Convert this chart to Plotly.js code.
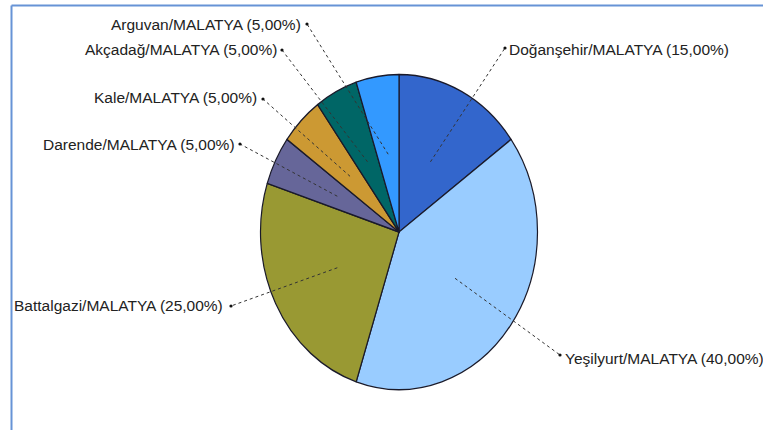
<!DOCTYPE html>
<html>
<head>
<meta charset="utf-8">
<script src="https://cdn.plot.ly/plotly-3.0.1.min.js"></script>
<style>
  html, body { margin: 0; padding: 0; background: #ffffff; }
  #chart { width: 763px; height: 430px; }
</style>
</head>
<body>
<div id="chart"></div>
<script>
// ---- data ----
var districts = ["Doğanşehir", "Yeşilyurt", "Battalgazi", "Darende", "Kale", "Akçadağ", "Arguvan"];
var province = "MALATYA";
var shares = [15, 40, 25, 5, 5, 5, 5];
var sliceColors = ["#3366cc", "#99ccff", "#999933", "#666699", "#cc9933", "#006666", "#3399ff"];

// ---- layout constants (pixels) ----
var W = 763, H = 430;
var CX = 399, CY = 232;      // pie centre
var RX = 138.5, RY = 157.5;  // pie radii (drawn as ellipse)
// outer end (dot) of each leader line and which side the label sits on
var dotPos = [[505, 48], [560, 355], [231, 306], [240, 144], [263, 99], [282, 50], [307, 24]];
var labelSide = ["left", "left", "right", "right", "right", "right", "right"];
var labelGap = [2, 3, 6, 3, 4, 3, 4];
var labelDy = [2, 3, -1, 0, -2, -1, 1];

function px(x) { return x / W; }
function py(y) { return 1 - y / H; }

var labels = districts.map(function (d) { return d + "/" + province; });
var total = shares.reduce(function (a, b) { return a + b; }, 0);

var shapes = [];
var annotations = [];

// border frame (top and left)
shapes.push({type: "line", xref: "paper", yref: "paper", x0: px(11.5), x1: 1, y0: py(5.5), y1: py(5.5),
  line: {color: "#6793d6", width: 2}});
shapes.push({type: "line", xref: "paper", yref: "paper", x0: px(11.5), x1: px(11.5), y0: py(5.5), y1: 0,
  line: {color: "#6793d6", width: 2}});

var cum = 0;
for (var i = 0; i < shares.length; i++) {
  var mid = (cum + shares[i] / 2) / total * 2 * Math.PI; // clockwise from 12 o'clock
  cum += shares[i];
  var ix = CX + 0.5 * RX * Math.sin(mid);
  var iy = CY - 0.5 * RY * Math.cos(mid);
  var dx = dotPos[i][0], dy = dotPos[i][1];
  shapes.push({type: "line", xref: "paper", yref: "paper",
    x0: px(ix), y0: py(iy), x1: px(dx), y1: py(dy),
    line: {color: "#333333", width: 1, dash: "dot"}});
  shapes.push({type: "circle", xref: "paper", yref: "paper",
    x0: px(dx - 1.6), x1: px(dx + 1.6), y0: py(dy - 1.6), y1: py(dy + 1.6),
    fillcolor: "#111", line: {color: "#111", width: 0}});
  var txt = labels[i] + " (" + shares[i].toFixed(2).replace(".", ",") + "%)";
  var isLeft = labelSide[i] === "left";
  annotations.push({
    xref: "paper", yref: "paper",
    x: px(isLeft ? dx + labelGap[i] : dx - labelGap[i]), y: py(dy + labelDy[i]),
    xanchor: isLeft ? "left" : "right", yanchor: "middle",
    text: txt, showarrow: false,
    font: {family: "Liberation Sans, Arial, sans-serif", size: 15.5, color: "#222222"}
  });
}

var trace = {
  type: "pie",
  labels: labels,
  values: shares,
  sort: false,
  direction: "clockwise",
  rotation: 0,
  textinfo: "none",
  hoverinfo: "none",
  marker: {colors: sliceColors, line: {color: "#1a1a2a", width: 1.2}},
  domain: {x: [px(CX - RX), px(CX + RX)], y: [py(CY + RX), py(CY - RX)]},
  showlegend: false
};

var layout = {
  width: W, height: H,
  margin: {l: 0, r: 0, t: 0, b: 0},
  paper_bgcolor: "#ffffff",
  plot_bgcolor: "#ffffff",
  showlegend: false,
  shapes: shapes,
  annotations: annotations,
  hovermode: false
};

Plotly.newPlot("chart", [trace], layout, {displayModeBar: false, staticPlot: true}).then(function () {
  var pl = document.querySelector(".pielayer");
  if (pl) {
    var s = RY / RX;
    pl.setAttribute("transform", "translate(0," + CY + ") scale(1," + s + ") translate(0," + (-CY) + ")");
  }
});
</script>
</body>
</html>
